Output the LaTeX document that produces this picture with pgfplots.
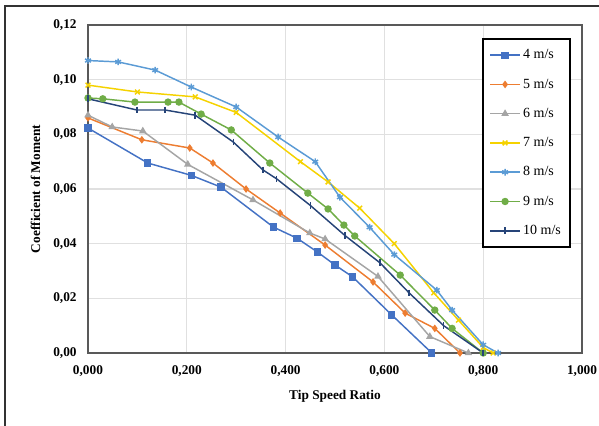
\documentclass[border=0pt]{standalone}
\usepackage{pgfplots}
\pgfplotsset{compat=1.18}
\usepackage{fontspec}
\setmainfont{Liberation Serif}
\definecolor{c4}{HTML}{4472C4}
\definecolor{c5}{HTML}{ED7D31}
\definecolor{c6}{HTML}{A5A5A5}
\definecolor{c7}{RGB}{245,210,0}
\definecolor{c8}{HTML}{5B9BD5}
\definecolor{c9}{HTML}{70AD47}
\definecolor{c10}{HTML}{264478}
\begin{document}
\begin{tikzpicture}
\useasboundingbox (0,0) rectangle (449.25pt,318.75pt);
\draw[line width=1pt,black!80] (3.75pt,-2pt) -- (3.75pt,314.25pt) -- (452pt,314.25pt);
\begin{axis}[
  at={(66pt,54pt)}, anchor=south west,
  scale only axis, width=370.5pt, height=246pt,
  xmin=0, xmax=1, ymin=0, ymax=0.12,
  xtick={0,0.2,...,1.0}, ytick={0,0.02,...,0.12},
  grid=major, major grid style={line width=0.8pt,black!12},
  axis line style={line width=1.3pt,black!65},
  tick style={draw=none},
  xticklabel style={yshift=-6pt,/pgf/number format/.cd,fixed,fixed zerofill,precision=3,use comma,assume math mode=true},
  yticklabel style={xshift=-5pt,/pgf/number format/.cd,fixed,fixed zerofill,precision=2,use comma,assume math mode=true},
  ticklabel style={font=\bfseries\fontsize{10}{12}\selectfont},
  scaled ticks=false,
  xlabel={Tip Speed Ratio}, ylabel={Coefficient of Moment},
  label style={font=\bfseries\fontsize{10}{12}\selectfont},
  xlabel style={yshift=-3pt},
  ylabel style={yshift=3pt},
  legend style={at={(0.798,0.960)}, anchor=north west, draw=black, line width=1.2pt,
    font=\fontsize{10.5}{12}\selectfont, row sep=9.5pt, inner xsep=5pt, inner ysep=6pt,
    cells={anchor=west}},
  legend image code/.code={\draw[#1,line width=1.1pt] (0pt,0pt) -- (22pt,0pt); \draw[#1,only marks] plot coordinates {(11pt,0pt)};},
  every axis plot/.append style={line width=1.1pt, mark size=2.2pt},
]
\addplot[c4, mark=square*, mark options={fill=c4}] coordinates {(0,0.0823)(0.121,0.0695)(0.209,0.065)(0.269,0.0607)(0.375,0.0461)(0.423,0.042)(0.464,0.037)(0.5,0.0322)(0.536,0.0278)(0.615,0.0139)(0.696,0)};
\addlegendentry{4 m/s}
\addplot[c5, mark=diamond*, mark size=2pt, mark options={fill=c5}] coordinates {(0,0.086)(0.109,0.078)(0.206,0.075)(0.253,0.0695)(0.32,0.06)(0.389,0.0512)(0.48,0.0395)(0.577,0.026)(0.642,0.0146)(0.702,0.009)(0.753,0)};
\addlegendentry{5 m/s}
\addplot[c6, mark=triangle*, mark options={fill=c6}] coordinates {(0,0.087)(0.049,0.0827)(0.111,0.0812)(0.202,0.069)(0.334,0.056)(0.449,0.0439)(0.48,0.0417)(0.587,0.028)(0.692,0.006)(0.77,0)};
\addlegendentry{6 m/s}
\addplot[c7, mark=x, mark size=2.5pt] coordinates {(0,0.098)(0.1,0.0955)(0.217,0.0937)(0.3,0.088)(0.43,0.07)(0.486,0.0626)(0.55,0.053)(0.62,0.04)(0.7,0.022)(0.75,0.012)(0.8,0.002)(0.82,0)};
\addlegendentry{7 m/s}
\addplot[c8, mark=asterisk, mark size=2.5pt] coordinates {(0,0.107)(0.061,0.1065)(0.136,0.1035)(0.209,0.0973)(0.3,0.09)(0.385,0.079)(0.46,0.07)(0.51,0.057)(0.57,0.046)(0.62,0.036)(0.706,0.023)(0.737,0.0157)(0.8,0.003)(0.83,0)};
\addlegendentry{8 m/s}
\addplot[c9, mark=*, mark options={fill=c9}] coordinates {(0,0.0933)(0.03,0.093)(0.095,0.0918)(0.162,0.0918)(0.184,0.0918)(0.229,0.0874)(0.29,0.0816)(0.368,0.0695)(0.445,0.0585)(0.486,0.0527)(0.518,0.0468)(0.54,0.0428)(0.632,0.0285)(0.702,0.0157)(0.737,0.009)(0.8,0)};
\addlegendentry{9 m/s}
\addplot[c10, mark=|, mark size=2.5pt] coordinates {(0,0.093)(0.099,0.0889)(0.156,0.0889)(0.217,0.087)(0.294,0.0772)(0.354,0.067)(0.382,0.0637)(0.45,0.054)(0.52,0.043)(0.591,0.033)(0.65,0.022)(0.72,0.01)(0.8,0)};
\addlegendentry{10 m/s}
\end{axis}
\end{tikzpicture}
\end{document}
